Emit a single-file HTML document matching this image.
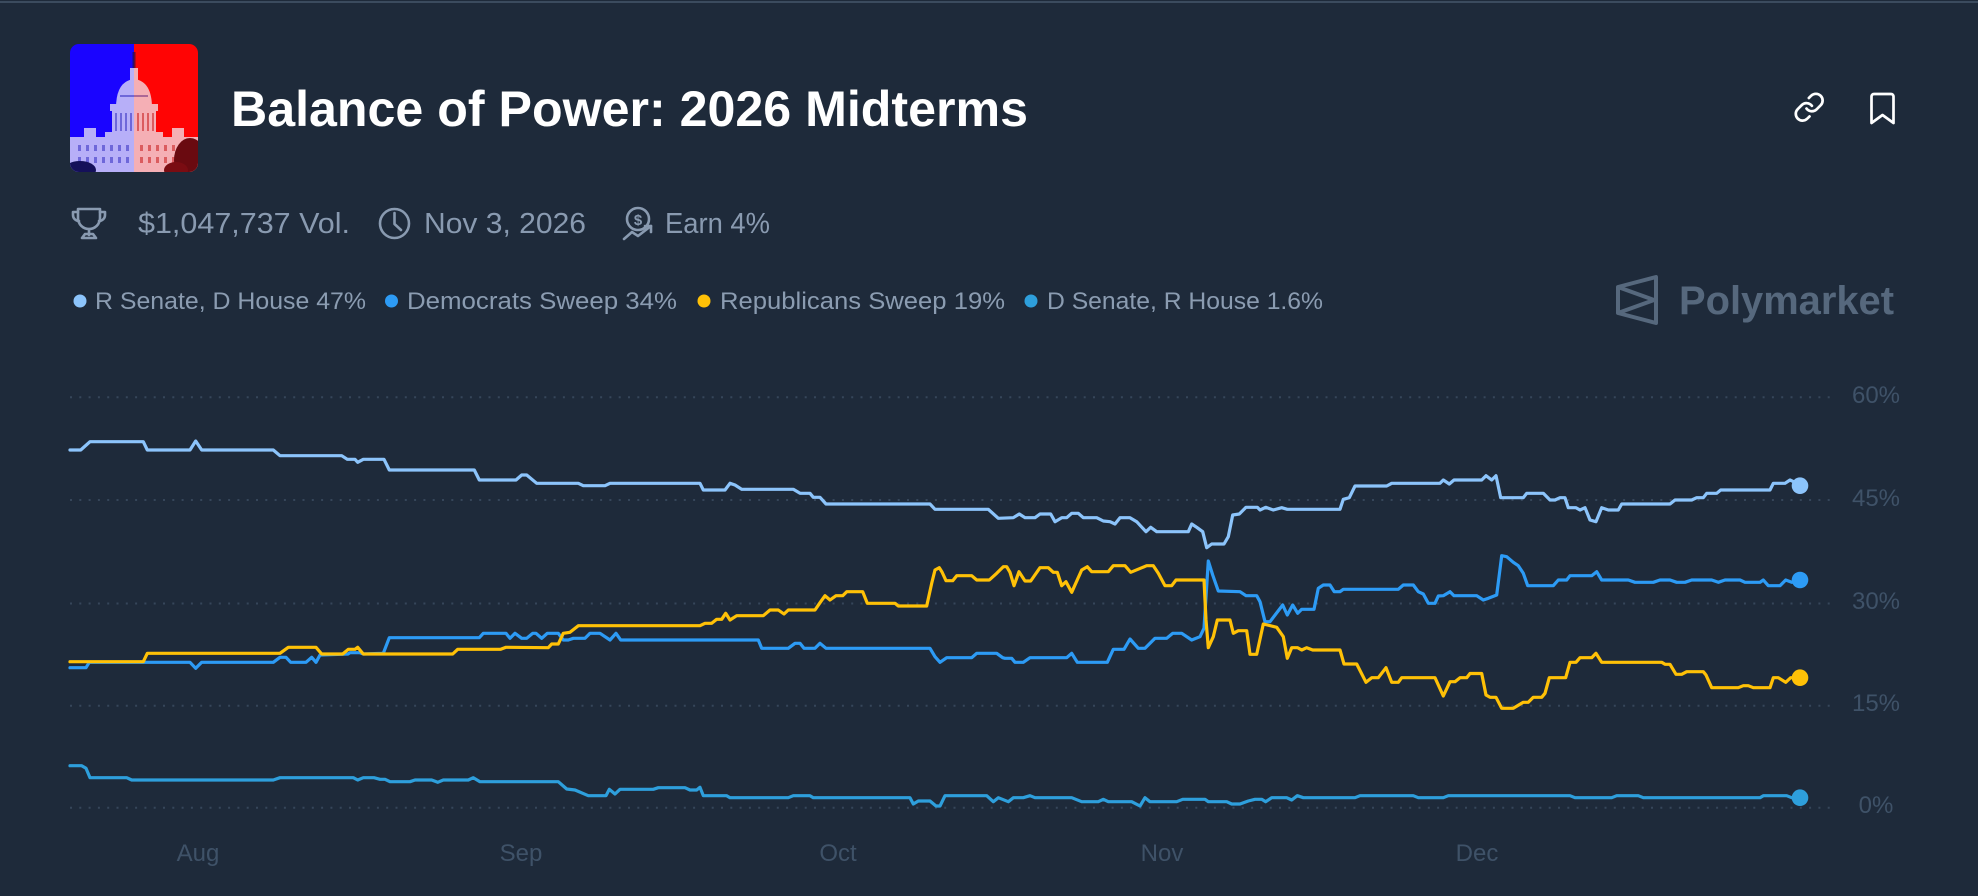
<!DOCTYPE html>
<html>
<head>
<meta charset="utf-8">
<style>
  html,body{margin:0;padding:0;background:#1e2a3a;}
  body{width:1978px;height:896px;overflow:hidden;position:relative;}
  svg{position:absolute;left:0;top:0;display:block;}
  text{font-family:"Liberation Sans", "DejaVu Sans", sans-serif;}
</style>
</head>
<body>
<svg width="1978" height="896" viewBox="0 0 1978 896" xmlns="http://www.w3.org/2000/svg">
  <defs>
    <clipPath id="ic"><rect x="70" y="44" width="128" height="128" rx="9"/></clipPath>
  </defs>
  <rect x="0" y="0" width="1978" height="896" fill="#1e2a3a"/>
  <rect x="0" y="1" width="1978" height="2" fill="#3b4b5e"/>

  <!-- Capitol icon -->
  <g clip-path="url(#ic)">
    <rect x="70" y="44" width="64" height="128" fill="#1800ff"/>
    <rect x="134" y="44" width="64" height="128" fill="#ff0000"/>
    <g fill="#f1eef6">
      <rect x="132.5" y="52" width="3" height="18" fill="#2a0f40"/>
      <rect x="130" y="68" width="8" height="12"/>
      <path d="M116,108 Q116,81 134,79 Q152,81 152,108 Z"/>
      <rect x="110" y="104" width="48" height="7"/>
      <rect x="112" y="111" width="44" height="24"/>
      <rect x="105" y="132" width="58" height="10"/>
      <rect x="70" y="137" width="128" height="36"/>
      <rect x="84" y="128" width="12" height="10"/>
      <rect x="172" y="128" width="12" height="10"/>
    </g>
    <g fill="#3a3aa8" opacity="0.55">
      <rect x="115" y="113" width="2" height="18"/><rect x="120" y="113" width="2" height="18"/><rect x="125" y="113" width="2" height="18"/><rect x="130" y="113" width="2" height="18"/>
      <rect x="78" y="145" width="3" height="6"/><rect x="86" y="145" width="3" height="6"/><rect x="94" y="145" width="3" height="6"/><rect x="102" y="145" width="3" height="6"/><rect x="110" y="145" width="3" height="6"/><rect x="118" y="145" width="3" height="6"/><rect x="126" y="145" width="3" height="6"/>
      <rect x="78" y="157" width="3" height="6"/><rect x="86" y="157" width="3" height="6"/><rect x="94" y="157" width="3" height="6"/><rect x="102" y="157" width="3" height="6"/><rect x="110" y="157" width="3" height="6"/><rect x="118" y="157" width="3" height="6"/><rect x="126" y="157" width="3" height="6"/>
      <path d="M120,96 h28" stroke="#3a3aa8" stroke-width="2"/>
    </g>
    <g fill="#b83030" opacity="0.6">
      <rect x="137" y="113" width="2" height="18"/><rect x="142" y="113" width="2" height="18"/><rect x="147" y="113" width="2" height="18"/><rect x="152" y="113" width="2" height="18"/>
      <rect x="140" y="145" width="3" height="6"/><rect x="148" y="145" width="3" height="6"/><rect x="156" y="145" width="3" height="6"/><rect x="164" y="145" width="3" height="6"/><rect x="172" y="145" width="3" height="6"/><rect x="180" y="145" width="3" height="6"/><rect x="188" y="145" width="3" height="6"/>
      <rect x="140" y="157" width="3" height="6"/><rect x="148" y="157" width="3" height="6"/><rect x="156" y="157" width="3" height="6"/><rect x="164" y="157" width="3" height="6"/><rect x="172" y="157" width="3" height="6"/><rect x="180" y="157" width="3" height="6"/><rect x="188" y="157" width="3" height="6"/>
    </g>
    <rect x="70" y="44" width="64" height="128" fill="#2010ff" opacity="0.28"/>
    <rect x="134" y="44" width="64" height="128" fill="#ff1010" opacity="0.28"/>
    <ellipse cx="80" cy="170" rx="16" ry="9" fill="#15105a"/>
    <ellipse cx="190" cy="160" rx="16" ry="22" fill="#6a0a10"/>
    <ellipse cx="176" cy="170" rx="12" ry="8" fill="#7a0c12"/>
  </g>

  <!-- Title -->
  <text x="231" y="126" font-size="50" font-weight="bold" fill="#ffffff" textLength="797" lengthAdjust="spacingAndGlyphs">Balance of Power: 2026 Midterms</text>

  <!-- Link icon -->
  <g transform="translate(1793,91) scale(1.35)" fill="none" stroke="#ffffff" stroke-width="2" stroke-linecap="round" stroke-linejoin="round">
    <path d="M10 13a5 5 0 0 0 7.54.54l3-3a5 5 0 0 0-7.07-7.07l-1.72 1.71"/>
    <path d="M14 11a5 5 0 0 0-7.54-.54l-3 3a5 5 0 0 0 7.07 7.07l1.71-1.71"/>
  </g>
  <!-- Bookmark icon -->
  <path d="M1874,94 h17 a2.5,2.5 0 0 1 2.5,2.5 V123 l-11,-8 l-11,8 V96.5 a2.5,2.5 0 0 1 2.5,-2.5 z" fill="none" stroke="#ffffff" stroke-width="2.7" stroke-linejoin="round"/>

  <!-- Meta row -->
  <g fill="none" stroke="#899ab0" stroke-width="2.6" stroke-linecap="round" stroke-linejoin="round">
    <path d="M78,209 H100 V218 a11,11 0 0 1 -22,0 Z"/>
    <path d="M78,212 H73 v3 a6,6 0 0 0 6,6"/>
    <path d="M100,212 H105 v3 a6,6 0 0 1 -6,6"/>
    <path d="M89,229 V235"/>
    <path d="M82,238 H96 L93,234 H85 Z"/>
    <circle cx="394.5" cy="223.5" r="14.5"/>
    <path d="M394.5,213 V224 L401,230"/>
    <circle cx="638" cy="219" r="11"/>
    <path d="M624,239 L632,232 L638,236 L651,226"/>
    <path d="M645,226 H651 V232"/>
  </g>
  <text x="638" y="225" font-size="15" font-weight="bold" fill="#899ab0" text-anchor="middle">$</text>
  <text x="138" y="233" font-size="29" fill="#899ab0" textLength="212" lengthAdjust="spacingAndGlyphs">$1,047,737 Vol.</text>
  <text x="424" y="233" font-size="29" fill="#899ab0" textLength="162" lengthAdjust="spacingAndGlyphs">Nov 3, 2026</text>
  <text x="665" y="233" font-size="29" fill="#899ab0" textLength="105" lengthAdjust="spacingAndGlyphs">Earn 4%</text>

  <!-- Legend -->
  <circle cx="80" cy="301" r="6.5" fill="#8cc4fb"/>
  <text x="95" y="309" font-size="24" fill="#8b9cb1" textLength="271" lengthAdjust="spacingAndGlyphs">R Senate, D House 47%</text>
  <circle cx="391.5" cy="301" r="6.5" fill="#2d9bf5"/>
  <text x="407" y="309" font-size="24" fill="#8b9cb1" textLength="270" lengthAdjust="spacingAndGlyphs">Democrats Sweep 34%</text>
  <circle cx="704" cy="301" r="6.5" fill="#ffc107"/>
  <text x="720" y="309" font-size="24" fill="#8b9cb1" textLength="285" lengthAdjust="spacingAndGlyphs">Republicans Sweep 19%</text>
  <circle cx="1031" cy="301" r="6.5" fill="#2e9fdc"/>
  <text x="1047" y="309" font-size="24" fill="#8b9cb1" textLength="276" lengthAdjust="spacingAndGlyphs">D Senate, R House 1.6%</text>

  <!-- Polymarket logo -->
  <g fill="none" stroke="#56687d" stroke-width="4" stroke-linejoin="round">
    <path d="M1618,287 L1656,277 L1656,323 L1618,313 Z"/>
    <path d="M1618,287 L1654,300 L1618,313"/>
  </g>
  <text x="1679" y="314" font-size="40" font-weight="bold" fill="#56687d" textLength="215" lengthAdjust="spacingAndGlyphs">Polymarket</text>

  <!-- Grid -->
  <g stroke="#36465a" stroke-width="2" stroke-dasharray="2 7.3">
    <line x1="70" y1="397.3" x2="1832" y2="397.3"/>
    <line x1="70" y1="500" x2="1832" y2="500"/>
    <line x1="70" y1="603.5" x2="1832" y2="603.5"/>
    <line x1="70" y1="705.7" x2="1832" y2="705.7"/>
    <line x1="70" y1="807.7" x2="1832" y2="807.7"/>
  </g>
  <g font-size="24" fill="#3f5268" text-anchor="middle">
    <text x="1876" y="403">60%</text>
    <text x="1876" y="506">45%</text>
    <text x="1876" y="609">30%</text>
    <text x="1876" y="711">15%</text>
    <text x="1876" y="813">0%</text>
    <text x="198" y="861">Aug</text>
    <text x="521" y="861">Sep</text>
    <text x="838" y="861">Oct</text>
    <text x="1162" y="861">Nov</text>
    <text x="1477" y="861">Dec</text>
  </g>

  <!-- Series -->
  <g fill="none" stroke-width="3.2" stroke-linejoin="round" stroke-linecap="round">
    <polyline stroke="#2e9fdc" points="70,765.7 81.7,765.7 86,768.3 90,777.7 126.7,777.7 131.7,780 273.3,780 280,777.7 353.3,777.7 357.7,780 363.3,777.7 374,777.7 380,779.3 385,779.3 390,781.7 410,781.7 415,780 431.7,780 437.7,782.3 443.3,780 468.3,780 473.3,777.7 480,781.7 558.3,781.7 566.7,789 575,790 588.3,795.7 606,795.7 609.3,789.3 615,794 620,789.3 653.3,789.3 658.3,787.7 685,787.7 690,790 696.7,790 700,787.3 703.3,795.7 726.7,795.7 730,797.7 788.3,797.7 793.3,795.7 810,795.7 813.3,797.7 910,797.7 913.3,804 918.3,801 930,801 936,806 940,806 945,795.7 986.7,795.7 993.3,801.7 998.3,797.7 1008.3,801.7 1013.3,797.7 1023.3,797.7 1030,795.7 1035,797.7 1071.7,797.7 1081.7,801.7 1098.3,801.7 1103.3,799.3 1108.3,801.7 1131.7,801.7 1140,806 1145,797.7 1150,801.7 1176.7,801.7 1182.7,799.3 1205,799.3 1208.3,801.7 1226.7,801.7 1231.7,804 1240,804 1248.3,801 1255,799.3 1261.7,799.3 1265.7,801.7 1271.7,797.7 1286.7,797.7 1291.7,800 1297.3,795.7 1303.3,797.7 1355,797.7 1360,795.7 1413.3,795.7 1418.3,797.7 1443.3,797.7 1448.3,795.7 1570,795.7 1575,797.7 1611.7,797.7 1616.7,795.7 1638.3,795.7 1643.3,797.7 1760,797.7 1763.3,795.7 1786.7,795.7 1791.7,797.7 1800,797.7"/>
    <polyline stroke="#2d9bf5" points="70,667.7 86,667.7 89.3,662.3 190,662.3 195.7,668.3 201.7,662.3 273.3,662.3 280,657.3 286,657.3 290.7,662.3 306,662.3 311.7,657.3 316,662.3 320,655 348,654 350,652.7 360,652.7 363.3,654 383.3,653.3 389.3,637.7 479.3,637.7 483.3,633.3 506,633.3 510,638.3 515,633.3 521.7,638.3 526.7,638.3 532.7,633.3 536,633.3 541.7,638.3 547.3,633.3 558.3,633.3 563.3,640 568.3,640 573.3,638.3 585,638.3 590,633.3 600,633.3 610,640 616,633.3 620.7,640 758.3,640 761.7,648.3 788.3,648.3 795,643.3 800,643.3 804,648.3 815,648.3 820,643.3 826,648.3 930,648.3 935,656.7 940,662.3 946.7,657.7 971.7,657.7 976.7,653.3 996.7,653.3 1002.7,657.7 1005,658.3 1011.7,658.3 1015,662.3 1023.3,662.3 1030,657.7 1066.7,657.7 1071.7,653.3 1077.3,662.3 1107.3,662.3 1113.3,649.3 1124,649.3 1130,639 1138.3,648.3 1145,648.3 1155,638.3 1166.7,638.3 1172.7,633.3 1181.7,633.3 1191.7,640 1200,636.7 1204,628.3 1208.3,561 1212.7,575 1218.3,591 1240,591.7 1246,595.7 1256.7,595.7 1260,601.7 1265,621.7 1270,621.7 1282.7,605 1287.3,615 1292.7,605 1297.7,613.3 1301.7,609.3 1314,609.3 1318.3,588.3 1323.3,585 1330,585 1334.3,591.7 1340,591.7 1343.3,589.3 1398.3,589.3 1403.3,585 1413.3,585 1418.3,591.7 1423.3,594 1428.3,603.3 1435,603.3 1438.3,596 1443.3,595.7 1450,591.7 1454,595.7 1476.7,595.7 1483.3,600 1488.3,598.3 1496.7,595 1501.7,555.7 1506.7,556.7 1513.3,562.3 1518.3,565.7 1523.3,573.3 1527.7,585.7 1553.3,585.7 1558.3,580 1566.7,580 1570,575.7 1591.7,575.7 1596.7,571.7 1601.7,580 1628.3,580 1635,582.3 1653.3,582.3 1660,580 1670,580 1676.7,582.3 1685,582.3 1691.7,580 1711.7,580 1718.3,582.3 1725,580 1740,580 1745,582.3 1760,582.3 1763.3,580 1768.3,585.7 1780,585.7 1785.7,580 1791.7,582.3 1800,580"/>
    <polyline stroke="#ffc107" points="70,661.7 143.3,661.7 147.3,653.3 280,653.3 288.3,647.3 316,647.3 321.7,654 342.7,654 348.3,649.3 355,649.3 357.7,647.3 363.3,654 452.7,654 457.7,649.3 500.7,649.3 506,647.3 548.3,647.7 551.7,644 558.3,644 563.3,633.3 570,632.3 578.3,625.7 700,625.7 705,623.3 711.7,623.3 716.7,619.3 721.7,619.3 725.7,613.3 730,620 736.7,615.7 763.3,615.7 770,610 778.3,610 784,614 788.3,610 815,610 820,602.7 825,595.7 830,600 836,595.7 842.7,595.7 846.7,591.7 862.7,591.7 867.3,603.3 895,603.3 898.3,606 926.7,606 931.7,583.3 935,570 939.3,567.7 942,572 946,580.7 952.7,580.7 956.7,575.7 971.7,575.7 976.7,580 989.3,580 996.7,573.3 1003.3,566.7 1006.7,566.7 1010,572.3 1014,585.7 1019,571.7 1025,581 1030.7,581 1040,567.7 1048.3,567.7 1053.3,572.3 1057.3,572.3 1061.7,585.7 1066,581.7 1071.7,592.3 1081.7,570 1087.3,566.7 1091.7,571.7 1108.3,571.7 1113.3,565.7 1125,565.7 1130.7,572.3 1146.7,565.7 1153.3,565.7 1158.3,573.3 1165,585.7 1171.7,585.7 1176,580 1204,580 1206,620 1208.3,647.7 1213.3,636.7 1217.3,620 1230,620 1233.3,633.3 1238.3,630.7 1246.7,630.7 1250,654.3 1256.7,654.3 1263.3,624 1276.7,627.3 1283.3,636.7 1287.3,658.3 1291.7,647.7 1297.7,647.7 1301.7,650 1306.7,647.7 1312.7,650 1340,650 1344,664 1356.7,664 1366,682.3 1371.7,677.7 1378.3,677.7 1386,667.7 1391.7,682.3 1398.3,682.3 1401.7,677.7 1435,677.7 1443.3,696 1450,681.7 1455,681.7 1460,677.7 1466.7,677.7 1470,673.5 1481.7,673.5 1486,695 1490,697.3 1496,697.3 1501.7,708.3 1513.3,708.3 1523.3,702.3 1528.3,702.3 1533.3,697.3 1541.7,697.3 1545,693.3 1549.3,677.7 1565.7,677.7 1570,662.3 1576,662.3 1580,657.7 1591.7,657.7 1596,653.3 1601.7,662.3 1661.7,662.3 1665,664.3 1670,664.3 1676,674.3 1681.7,674.3 1686.7,671.7 1703.3,671.7 1706,675 1711.7,687.7 1738.3,687.7 1743.3,685.7 1748.3,685.7 1753.3,687.7 1770,687.7 1773.3,677.7 1778.3,677.7 1785.7,682.3 1790.7,677.7 1800,677.7"/>
    <polyline stroke="#8cc4fb" points="70,450 80.7,450 90,441.7 143.3,441.7 147.3,450 190,450 195.7,441 201.7,450 273.3,450 280,455.7 341.7,455.7 347.3,459.3 355,459.3 357.7,462.3 363.3,459.3 384,459.3 389.3,470 474.3,470 479.3,480 516,480 521.7,475 526.7,475 536.7,483.3 578.3,483.3 583.3,485.7 605,485.7 610,483.3 700,483.3 703.3,490 725,490 730,483.3 735,485 741.7,489.3 793.3,489.3 800,493.3 810,493.3 813.3,497.3 820,497.3 826,504 930,504 935,509.3 988.3,509.3 998.3,518.3 1013.3,517.7 1019.3,514 1025,517.7 1035,517.7 1040,514 1050.7,514 1055,521.7 1061.7,517.7 1066.7,517.7 1071.7,513.3 1078.3,513.3 1083.3,517.7 1096.7,517.7 1103.3,521 1110,521.7 1115,524 1120,517.7 1130,517.7 1136.7,521.7 1146,531.7 1150.7,527.3 1156.7,531.7 1188.3,531.7 1191.7,524 1196.7,527.3 1202.7,531.7 1206.7,547.7 1211.7,544 1224,544 1228.3,536.7 1232.7,515 1239.3,514 1246,507.3 1257.3,507.3 1260,510 1265.7,507.3 1273.3,510 1281.7,507.7 1287.3,509.3 1340,509.3 1343.3,499.3 1349.3,497.7 1355,486 1386.7,486 1391.7,483.3 1440,483.3 1443.3,480 1449.3,484 1454,480 1481.7,480 1486,475.7 1491.7,480 1496,475.7 1500.7,497.7 1523.3,497.7 1526.7,493.3 1543.3,493.3 1550,500 1555,500 1560,497.7 1565,497.7 1568.3,507.7 1576,507.7 1580,510 1585,507.7 1590,520 1596,521.7 1601.7,507.7 1608.3,510 1618.3,510 1621.7,504 1670,504 1675,500 1691.7,500 1696.7,497.7 1703.3,497.7 1706.7,493.3 1716.7,493.3 1720.7,490 1770,490 1773.3,483.3 1785,483.3 1790,480 1795,482.3 1800,485.7"/>
  </g>
  <circle cx="1800" cy="485.7" r="8.3" fill="#8cc4fb"/>
  <circle cx="1800" cy="580" r="8.3" fill="#2d9bf5"/>
  <circle cx="1800" cy="677.7" r="8.3" fill="#ffc107"/>
  <circle cx="1800" cy="797.7" r="8.3" fill="#2e9fdc"/>
</svg>
</body>
</html>
